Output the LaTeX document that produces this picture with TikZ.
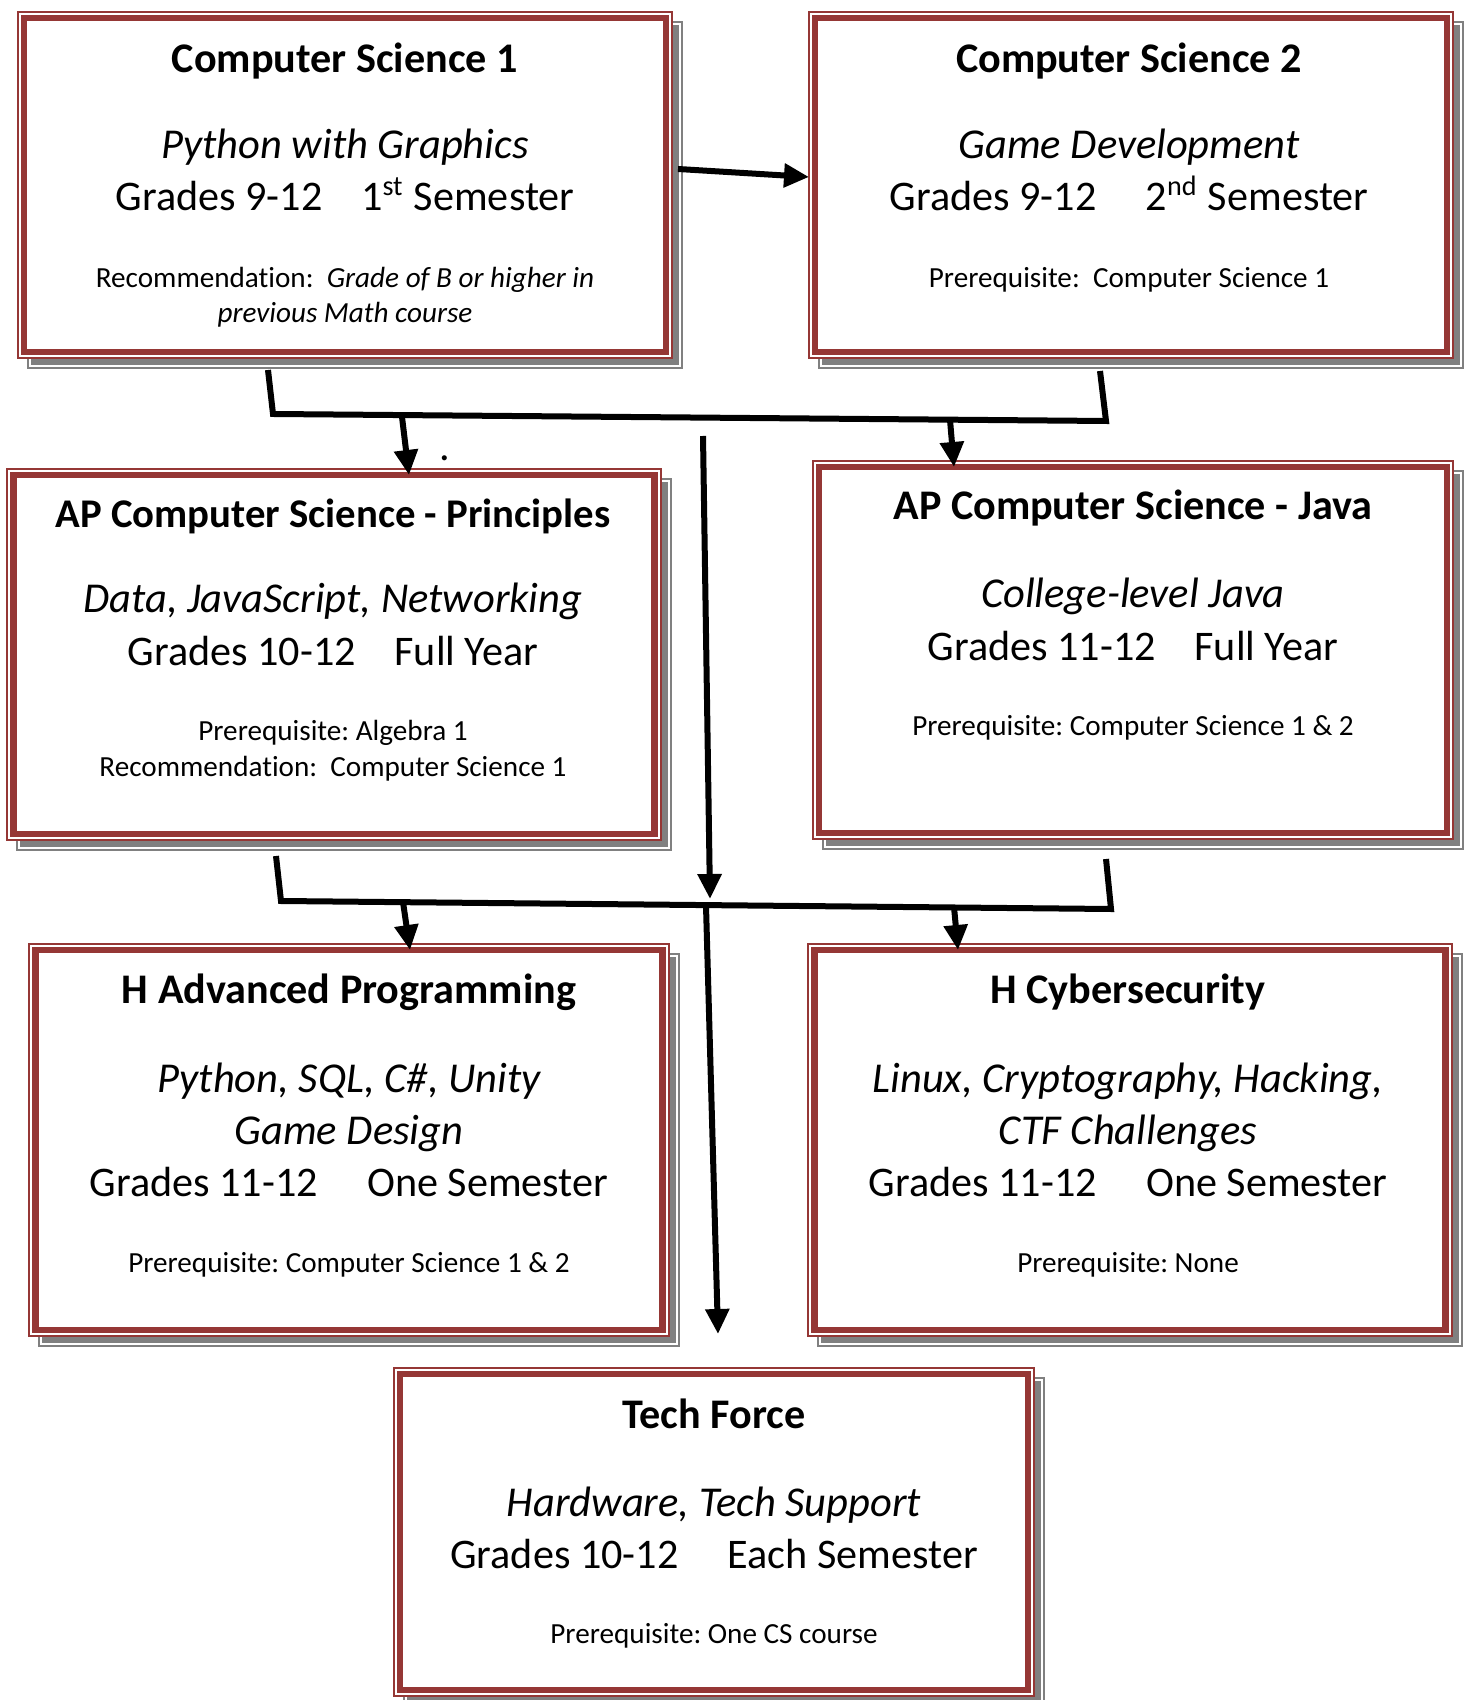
\documentclass[tikz,border=0pt]{standalone}
\usepackage{fontspec}
\setmainfont{Carlito}[Ligatures=NoCommon]
\frenchspacing
\usetikzlibrary{calc, arrows.meta, backgrounds}
\definecolor{boxred}{RGB}{149,55,53}
\definecolor{shadowgray}{RGB}{128,128,128}

\begin{document}
\begin{tikzpicture}[x=0.1mm,y=-0.1mm,
  course/.style={draw=boxred,line width=0.65mm,fill=white,outer sep=0pt,inner sep=0pt},
  ctitle/.style={font=\fontsize{12}{14}\selectfont\bfseries,anchor=base,inner sep=0pt},
  csub/.style={font=\fontsize{12.1}{14}\selectfont\itshape,anchor=base,inner sep=0pt},
  cgrade/.style={font=\fontsize{12}{14}\selectfont,anchor=base,inner sep=0pt},
  cnote/.style={font=\fontsize{8.3}{10}\selectfont,anchor=base,inner sep=0pt},
  flow/.style={line width=0.6mm,-{Triangle[length=2.5mm,width=2.3mm]}},
  link/.style={line width=0.6mm}]
  \useasboundingbox (0,0) rectangle (1469,1700);

  % boxes
  \node[course,minimum width=64.2mm,minimum height=33.4mm] (cs1) at (345,185) {}; %CS1
  \node[course,minimum width=63.2mm,minimum height=33.4mm] (cs2) at (1131,185) {}; %CS2
  \node[course,minimum width=64.1mm,minimum height=35.9mm] (apcsp) at (334,654.5) {}; %AP CSP
  \node[course,minimum width=62.8mm,minimum height=36.6mm] (apcsa) at (1133,650) {}; %AP CSA
  \node[course,minimum width=62.7mm,minimum height=38mm] (hap) at (349,1140) {}; %H Adv
  \node[course,minimum width=63.1mm,minimum height=38mm] (hcyber) at (1130,1140) {}; %H Cyber
  \node[course,minimum width=62.8mm,minimum height=31.6mm] (tech) at (714,1532) {}; %Tech Force

  % frames and shadows
  \begin{scope}[on background layer]
    \foreach \b in {cs1,cs2,apcsp,apcsa,hap,hcyber,tech}{
      \draw[shadowgray,line width=0.2mm,fill=white] ($(\b.north west)+(3.7,3.7)$) rectangle ($(\b.south east)+(16.3,16.3)$);
      \draw[shadowgray,line width=0.65mm] ($(\b.north west)+(10,10)$) rectangle ($(\b.south east)+(10,10)$);
      \draw[boxred,line width=0.2mm,fill=white] ($(\b.north west)+(-6.3,-6.3)$) rectangle ($(\b.south east)+(6.3,6.3)$);
    }
  \end{scope}

  % CS1
  \node[ctitle] (cs1title) at (345,73) {Computer Science 1};
  \node[csub] (cs1sub) at (345,159) {Python with Graphics};
  \node[cgrade] (cs1grade) at (345,211) {Grades 9-12\hspace{11pt}1\textsuperscript{st} Semester};
  \node[cnote] (cs1note) at (345,288) {Recommendation:~ \textit{Grade of B or higher in}};
  \node[cnote] (cs1note2) at (345,323) {\textit{previous Math course}};

  % CS2
  \node[ctitle] (cs2title) at (1129,73) {Computer Science 2};
  \node[csub] (cs2sub) at (1129,159) {Game Development};
  \node[cgrade] (cs2grade) at (1129,211) {Grades 9-12\hspace{14pt}2\textsuperscript{nd} Semester};
  \node[cnote] (cs2note) at (1129,288) {Prerequisite:~ Computer Science 1};

  % AP CSP
  \node[ctitle,font=\fontsize{11.6}{14}\selectfont\bfseries] (apcsptitle) at (333,528) {AP Computer Science - Principles};
  \node[csub] (apcspsub) at (333,613) {Data, JavaScript, Networking};
  \node[cgrade] (apcspgrade) at (333,666) {Grades 10-12\hspace{11pt}Full Year};
  \node[cnote] (apcspnote) at (333,741) {Prerequisite: Algebra 1};
  \node[cnote] (apcspnote2) at (333,777) {Recommendation:~ Computer Science 1};
  \node[cgrade] (dot) at (445,461) {.};

  % AP CSA
  \node[ctitle] (apcsatitle) at (1133,520) {AP Computer Science - Java};
  \node[csub] (apcsasub) at (1133,608) {College-level Java};
  \node[cgrade] (apcsagrade) at (1133,661) {Grades 11-12\hspace{11pt}Full Year};
  \node[cnote] (apcsanote) at (1133,736) {Prerequisite: Computer Science 1 \& 2};

  % H Advanced Programming
  \node[ctitle] (haptitle) at (349,1003) {H Advanced Programming};
  \node[csub] (hapsub) at (349,1092) {Python, SQL, C\#, Unity};
  \node[csub] (hapsub2) at (349,1144) {Game Design};
  \node[cgrade] (hapgrade) at (349,1196) {Grades 11-12\hspace{14pt}One Semester};
  \node[cnote] (hapnote) at (349,1272) {Prerequisite: Computer Science 1 \& 2};

  % H Cybersecurity
  \node[ctitle] (hcybertitle) at (1128,1003) {H Cybersecurity};
  \node[csub] (hcybersub) at (1128,1092) {Linux, Cryptography, Hacking,};
  \node[csub] (hcybersub2) at (1128,1144) {CTF Challenges};
  \node[cgrade] (hcybergrade) at (1128,1196) {Grades 11-12\hspace{14pt}One Semester};
  \node[cnote] (hcybernote) at (1128,1272) {Prerequisite: None};

  % Tech Force
  \node[ctitle] (techtitle) at (714,1428) {Tech Force};
  \node[csub] (techsub) at (714,1516) {Hardware, Tech Support};
  \node[cgrade] (techgrade) at (714,1568) {Grades 10-12\hspace{14pt}Each Semester};
  \node[cnote] (technote) at (714,1643) {Prerequisite: One CS course};

  % connectors
  \coordinate (a1) at (678,169);
  \coordinate (a2) at (809,177);
  \draw[flow] (a1) -- (a2); %CS1→CS2
  \coordinate (t1) at (268,370);
  \coordinate (t2) at (273,414);
  \coordinate (t3) at (1106,421);
  \coordinate (t4) at (1100,371);
  \draw[link] (t1) -- (t2) -- (t3) -- (t4); %上の枠
  \coordinate (j1) at (402,417);
  \coordinate (j2) at (950,420);
  \draw[flow] (j1) -- (409,0 |- apcsp.north);
  \draw[flow] (j2) -- (954,0 |- apcsa.north);
  \coordinate (b1) at (276,856);
  \coordinate (b2) at (281,901);
  \coordinate (b3) at (1111,909);
  \coordinate (b4) at (1106,859);
  \draw[link] (b1) -- (b2) -- (b3) -- (b4); %下の枠
  \coordinate (m1) at (703,436);
  \coordinate (m2) at (710,899);
  \draw[flow] (m1) -- (m2);
  \coordinate (k1) at (403,902);
  \coordinate (k2) at (954,907);
  \draw[flow] (k1) -- (410,0 |- hap.north);
  \draw[flow] (k2) -- (958,0 |- hcyber.north);
  \coordinate (n1) at (706,906);
  \coordinate (n2) at (718,1334);
  \draw[flow] (n1) -- (n2); %Tech Forceへ
\end{tikzpicture}
\end{document}
